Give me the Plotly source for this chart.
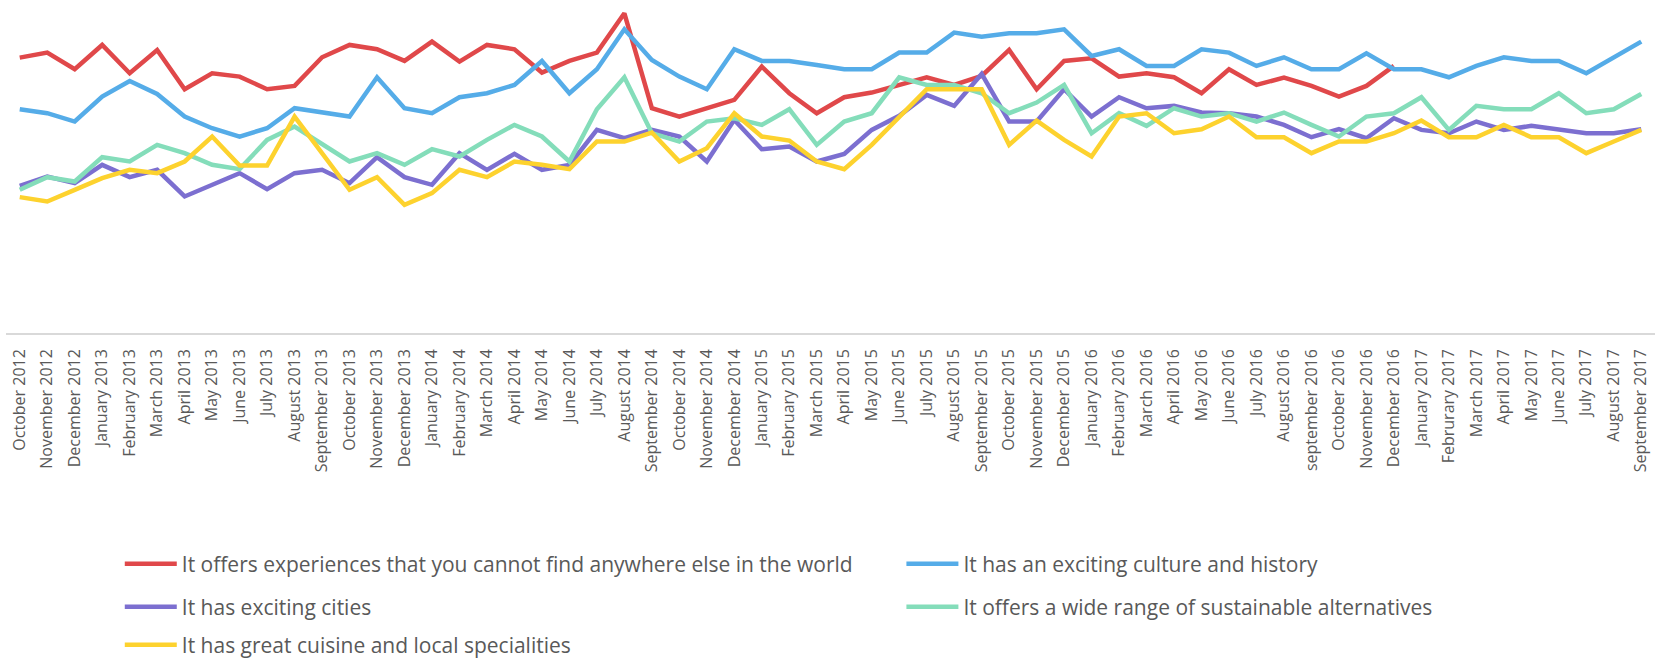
import plotly.graph_objects as go

months = [
    "October 2012", "November 2012", "December 2012", "January 2013", "February 2013",
    "March 2013", "April 2013", "May 2013", "June 2013", "July 2013", "August 2013",
    "September 2013", "October 2013", "November 2013", "December 2013", "January 2014",
    "February 2014", "March 2014", "April 2014", "May 2014", "June 2014", "July 2014",
    "August 2014", "September 2014", "October 2014", "November 2014", "December 2014",
    "January 2015", "February 2015", "March 2015", "April 2015", "May 2015", "June 2015",
    "July 2015", "August 2015", "September 2015", "October 2015", "November 2015",
    "December 2015", "January 2016", "February 2016", "March 2016", "April 2016",
    "May 2016", "June 2016", "July 2016", "August 2016", "september 2016",
    "October 2016", "November 2016", "December 2016", "January 2017", "Februrary 2017",
    "March 2017", "April 2017", "May 2017", "June 2017", "July 2017", "August 2017",
    "September 2017",
]

unique_experiences = [
    82.7, 84.2, 79.2, 86.5, 78.0, 85.0, 73.2, 78.0, 77.0, 73.2, 74.2, 82.8, 86.5, 85.2,
    81.7, 87.5, 81.5, 86.5, 85.2, 78.2, 81.7, 84.2, 96.0, 67.5, 65.0, 67.5, 70.0, 80.0,
    72.0, 66.0, 70.8, 72.2, 74.5, 76.8, 74.5, 77.2, 85.0, 73.2, 81.7, 82.5, 77.0, 78.0,
    76.8, 72.0, 79.2, 74.5, 76.7, 74.2, 71.0, 74.2, 80.2,
    None, None, None, None, None, None, None, None, None,
]
culture_history = [
    67.2, 66.0, 63.5, 71.0, 75.7, 71.8, 65.0, 61.5, 59.0, 61.5, 67.5, 66.2, 65.0, 76.8,
    67.5, 66.0, 70.8, 72.0, 74.5, 81.7, 72.0, 79.2, 91.2, 82.0, 77.0, 73.2, 85.2, 81.7,
    81.7, 80.5, 79.2, 79.2, 84.2, 84.2, 90.2, 89.0, 90.0, 90.0, 91.2, 83.2, 85.2, 80.2,
    80.2, 85.2, 84.2, 80.2, 82.8, 79.2, 79.2, 84.0, 79.2, 79.2, 76.8, 80.2, 82.8, 81.7,
    81.7, 78.0, 82.8, 87.5,
]
exciting_cities = [
    44.2, 47.0, 45.0, 50.5, 46.8, 49.0, 41.0, 44.5, 48.0, 43.2, 48.0, 49.0, 45.0, 52.8,
    46.8, 44.5, 54.0, 49.0, 53.8, 49.0, 50.5, 61.0, 58.5, 61.0, 59.0, 51.5, 64.0, 55.2,
    56.0, 51.5, 53.8, 61.0, 65.2, 71.5, 68.2, 77.8, 63.5, 63.5, 73.2, 65.0, 70.8, 67.5,
    68.2, 66.2, 66.0, 65.0, 62.5, 58.8, 61.2, 58.5, 64.5, 61.0, 60.0, 63.5, 61.0, 62.2,
    61.0, 60.0, 60.0, 61.2,
]
sustainable_alternatives = [
    43.0, 46.8, 45.5, 52.8, 51.5, 56.5, 54.0, 50.5, 49.2, 58.0, 62.0, 56.8, 51.5, 54.0,
    50.5, 55.2, 53.0, 58.0, 62.5, 59.0, 51.5, 67.2, 76.8, 60.0, 57.5, 63.5, 64.5, 62.5,
    67.2, 56.5, 63.5, 66.0, 76.8, 74.5, 74.5, 72.0, 66.0, 69.2, 74.5, 60.0, 66.0, 62.2,
    67.5, 65.0, 66.0, 63.5, 66.2, 62.5, 59.0, 65.0, 66.0, 70.8, 61.0, 68.2, 67.2, 67.2,
    72.0, 66.0, 67.2, 71.8,
]
cuisine_specialities = [
    40.8, 39.5, 43.0, 46.5, 49.0, 48.0, 51.5, 59.0, 50.3, 50.3, 65.0, 54.0, 43.0, 46.8,
    38.5, 42.0, 49.0, 46.8, 51.5, 50.5, 49.2, 57.5, 57.5, 60.2, 51.5, 55.5, 66.0, 59.0,
    57.8, 51.5, 49.2, 56.5, 65.0, 73.2, 73.2, 73.2, 56.5, 63.8, 58.0, 53.0, 65.0, 66.0,
    60.0, 61.2, 65.0, 58.8, 58.8, 54.0, 57.5, 57.5, 60.0, 63.8, 58.8, 58.8, 62.5, 58.8,
    58.8, 54.0, 57.5, 61.0,
]

# (name, values, colour, legend id, legend x, legend y) -- one legend box per entry,
# laid out as a two-column grid below the axis
series = [
    ("It offers experiences that you cannot find anywhere else in the world",
     unique_experiences, "#E0484A", "legend", 0.069, -0.694),
    ("It has an exciting culture and history",
     culture_history, "#55ACE8", "legend2", 0.543, -0.694),
    ("It has exciting cities",
     exciting_cities, "#7C6FD0", "legend3", 0.069, -0.823),
    ("It offers a wide range of sustainable alternatives",
     sustainable_alternatives, "#84DDBA", "legend4", 0.543, -0.823),
    ("It has great cuisine and local specialities",
     cuisine_specialities, "#FDD22E", "legend5", 0.069, -0.937),
]

fig = go.Figure()
legend_font = dict(family="Open Sans", size=21, color="#595959")
legends = {}
for name, values, color, legend_id, lx, ly in series:
    fig.add_trace(go.Scatter(
        x=months, y=values, name=name, mode="lines", legend=legend_id,
        line=dict(color=color, width=4.5), connectgaps=False,
    ))
    legends[legend_id] = dict(
        orientation="h", xanchor="left", yanchor="middle", x=lx, y=ly,
        font=legend_font, bgcolor="rgba(0,0,0,0)", itemwidth=52,
    )

fig.update_layout(
    width=1657, height=659,
    margin=dict(l=6, r=2, t=0, b=326, autoexpand=False),
    paper_bgcolor="white", plot_bgcolor="white",
    showlegend=True,
    xaxis=dict(
        type="category", range=[-0.5, 59.5], tickangle=-90,
        tickfont=dict(family="Open Sans", size=16, color="#595959"),
        ticklabelstandoff=8,
        showgrid=False, zeroline=False, showline=True,
        linecolor="#D9D9D9", linewidth=1.5, ticks="",
    ),
    yaxis=dict(
        range=[0, 100], visible=False, showgrid=False, zeroline=False,
    ),
    **legends,
)

fig.write_html("out.html")
